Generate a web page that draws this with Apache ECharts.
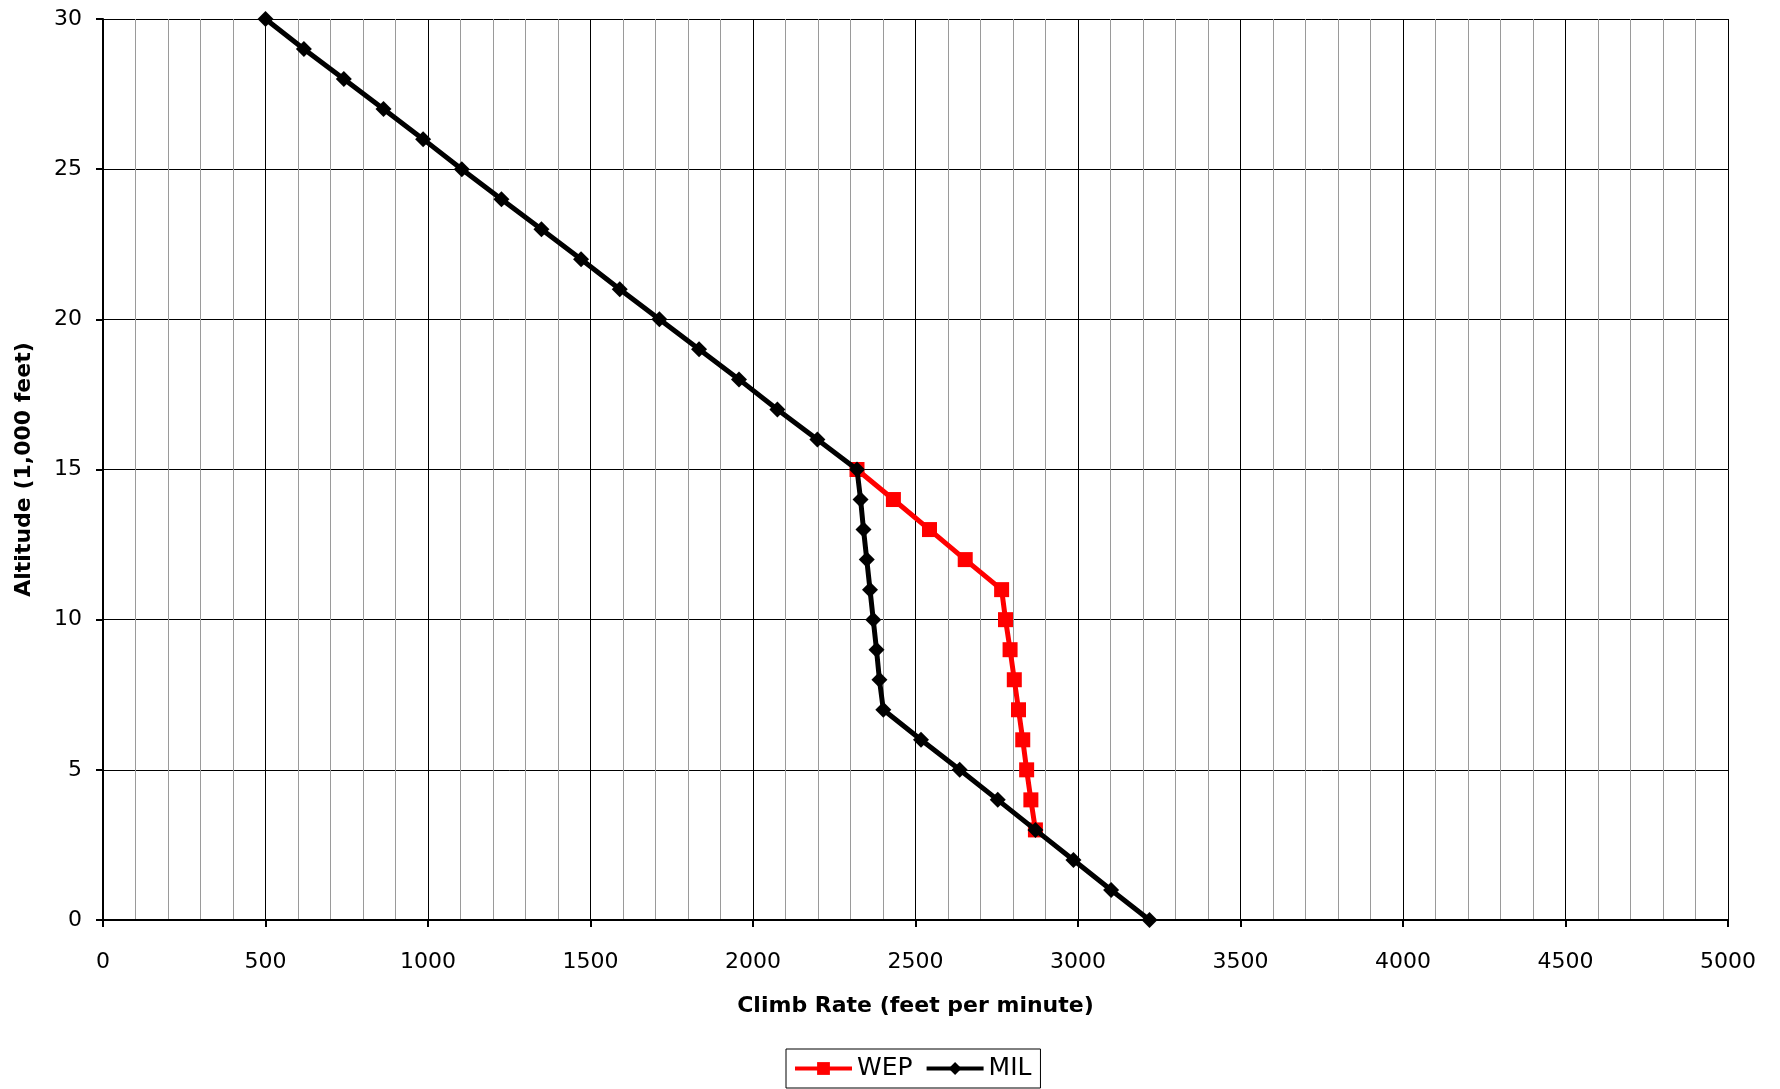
<!DOCTYPE html>
<html><head><meta charset="utf-8">
<script src="https://cdn.jsdelivr.net/npm/echarts@6/dist/echarts.min.js"></script>
<style>html,body{margin:0;padding:0;background:#fff}#c{width:1780px;height:1089px}</style>
</head><body><div id="c"></div>
<script>
const altitudesMIL = [30,29,28,27,26,25,24,23,22,21,20,19,18,17,16,15,14,13,12,11,10,9,8,7,6,5,4,3,2,1,0];
const climbMIL = [500,618,741,863,985,1104,1226,1349,1471,1590,1712,1834,1957,2075,2198,2320,2331,2340,2350,2360,2370,2380,2389,2401,2517,2636,2753,2869,2986,3102,3220];
const altitudesWEP = [15,14,13,12,11,10,9,8,7,6,5,4,3];
const climbWEP = [2320,2432,2543,2653,2765,2777,2791,2804,2817,2830,2842,2855,2869];
const xTitle = 'Climb Rate (feet per minute)';
const yTitle = 'Altitude (1,000 feet)';
const FONT = '"DejaVu Sans", "Liberation Sans", Arial, sans-serif';

const chart = echarts.init(document.getElementById('c'), null, {renderer:'canvas'});
chart.setOption({
  animation:false,
  backgroundColor:'#fff',
  textStyle:{fontFamily:FONT},
  grid:{left:103,right:52,top:19,bottom:169,containLabel:false},
  legend:{
    left:786, top:1049,
    data:['WEP','MIL'],
    borderColor:'#000', borderWidth:1, borderRadius:0,
    padding:[7,9,7,7],
    itemGap:12, itemWidth:57, itemHeight:16,
    lineStyle:{width:4},
    textStyle:{fontSize:25,color:'#000',fontFamily:FONT}
  },
  xAxis:{
    type:'value', min:0, max:5000, interval:500,
    name:xTitle, nameLocation:'middle', nameGap:75,
    nameTextStyle:{fontSize:22,fontWeight:'bold',color:'#000',fontFamily:FONT},
    axisLine:{show:true,onZero:false,lineStyle:{color:'#000',width:2}},
    axisTick:{show:true,inside:false,length:7,lineStyle:{color:'#000',width:2}},
    axisLabel:{fontSize:22,color:'#000',margin:31,fontFamily:FONT,formatter:v=>String(v)},
    splitLine:{show:true,lineStyle:{color:'#000',width:1}},
    minorTick:{show:false,splitNumber:5},
    minorSplitLine:{show:true,lineStyle:{color:'#9a9a9a',width:1}}
  },
  yAxis:{
    type:'value', min:0, max:30, interval:5,
    name:yTitle, nameLocation:'middle', nameGap:68,
    nameTextStyle:{fontSize:22,fontWeight:'bold',color:'#000',fontFamily:FONT},
    axisLine:{show:true,onZero:false,lineStyle:{color:'#000',width:2}},
    axisTick:{show:true,inside:false,length:7,lineStyle:{color:'#000',width:2}},
    axisLabel:{fontSize:22,color:'#000',margin:21,fontFamily:FONT,formatter:v=>String(v)},
    splitLine:{show:true,lineStyle:{color:'#000',width:1}}
  },
  series:[
    {
      name:'WEP', type:'line',
      data:climbWEP.map((v,i)=>[v,altitudesWEP[i]]),
      symbol:'rect', symbolSize:15,
      lineStyle:{color:'#ff0000',width:5},
      itemStyle:{color:'#ff0000'},
      z:2
    },
    {
      name:'MIL', type:'line',
      data:climbMIL.map((v,i)=>[v,altitudesMIL[i]]),
      symbol:'diamond', symbolSize:16,
      lineStyle:{color:'#000',width:5},
      itemStyle:{color:'#000'},
      z:3
    }
  ]
});
</script></body></html>
